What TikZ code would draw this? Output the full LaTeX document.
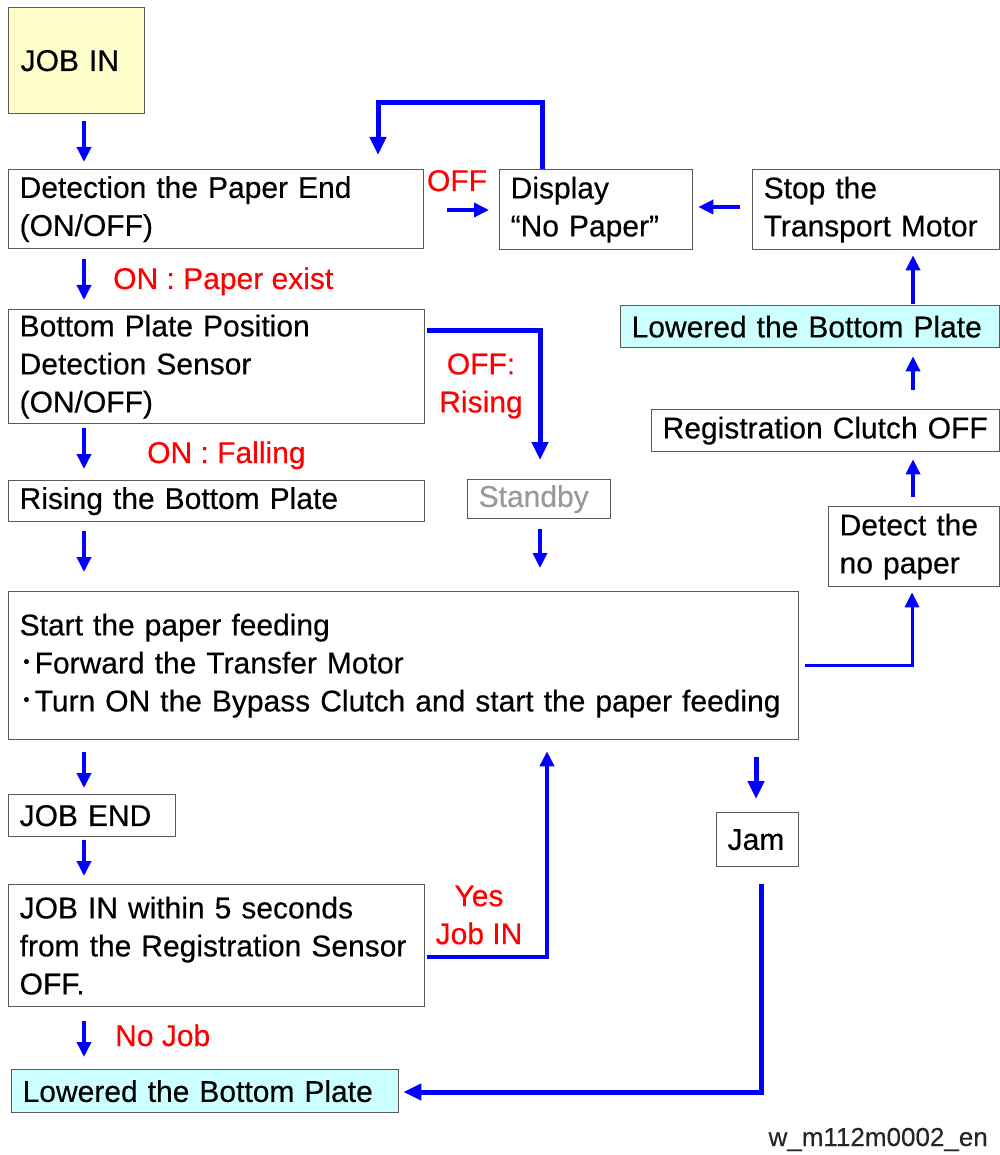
\documentclass[tikz,border=0pt]{standalone}
\usepackage{fontspec}
\setmainfont{Liberation Sans}[FakeBold=0.35]
\newfontfamily\cjk{Noto Sans CJK JP}
\usetikzlibrary{arrows.meta}
\definecolor{flowblue}{RGB}{0,0,255}
\definecolor{lblred}{RGB}{255,0,0}
\definecolor{startfill}{RGB}{255,255,204}
\definecolor{lowfill}{RGB}{204,255,255}
\begin{document}
\begin{tikzpicture}[x=1pt, y=-1pt, font=\fontsize{30}{38}\selectfont,
	box/.style={draw=black!65, line width=1.3pt, anchor=north west, align=left, inner xsep=11pt, inner ysep=0pt},
	lbl/.style={text=lblred, inner sep=0pt},
	flow/.style={draw=flowblue, line width=3.5pt, -{Triangle[length=15pt,width=14pt]}},
	bigflow/.style={flow, line width=5pt, -{Triangle[length=18pt,width=16pt]}}]
	\useasboundingbox (0,0) rectangle (999,1155);
	% 1. Cột trái: các bước chính
	\node[box, fill=startfill, text width=112pt, minimum height=106pt, inner xsep=12pt] (jobin) at (8,7) {JOB IN};
	\node[box, text width=393pt, minimum height=79pt] (det) at (8,169) {Detection the Paper End\\(ON/OFF)};
	\node[box, text width=394pt, minimum height=114pt] (bpp) at (8,309) {Bottom Plate Position\\Detection Sensor\\(ON/OFF)};
	\node[box, text width=394pt, minimum height=41pt] (rise) at (8,480) {Rising the Bottom Plate};
	\node[box, text width=768pt, minimum height=148pt] (feed) at (8,591) {Start the paper feeding\\{\cjk ･}Forward the Transfer Motor\\{\cjk ･}Turn ON the Bypass Clutch and start the paper feeding};
	\node[box, text width=145pt, minimum height=42pt] (jobend) at (8,794) {JOB END};
	\node[box, text width=394pt, minimum height=122pt] (within) at (8,884) {JOB IN within 5 seconds\\from the Registration Sensor\\OFF.};
	\node[box, fill=lowfill, text width=365pt, minimum height=43pt] (lowB) at (11,1069) {Lowered the Bottom Plate};
	% 2. Cột phải: hết giấy
	\node[box, text width=171pt, minimum height=80pt] (disp) at (499,169) {Display\\“No Paper”};
	\node[box, text width=225pt, minimum height=80pt] (stop) at (752,169) {Stop the\\Transport Motor};
	\node[box, fill=lowfill, text width=357pt, minimum height=42pt] (lowA) at (620,305) {Lowered the Bottom Plate};
	\node[box, text width=326pt, minimum height=42pt] (reg) at (651,409) {Registration Clutch OFF};
	\node[box, text width=149pt, minimum height=80pt] (nopaper) at (828,506) {Detect the\\no paper};
	\node[box, text=black!40, text width=121pt, minimum height=39pt] (standby) at (467,479) {Standby};
	\node[box, text width=60pt, minimum height=54pt] (jam) at (716,812) {Jam};
	% 3. Nhãn đỏ
	\node[lbl, anchor=base] (offA) at (457,191) {OFF};
	\node[lbl, anchor=base west] (onA) at (113,289) {ON : Paper exist};
	\node[lbl, align=center] (offB) at (481,386) {OFF:\\Rising};
	\node[lbl, anchor=base west] (onB) at (147,463) {ON : Falling};
	\node[lbl, align=center] (yes) at (479,915) {Yes\\Job IN};
	\node[lbl, anchor=base west] (nojob) at (115,1046) {No Job};
	\node[anchor=base east, inner sep=0pt, font=\fontsize{26}{30}\selectfont, text=black!85] (code) at (988,1146) {w\_m112m0002\_en};
	% 4. Điểm gấp của các đường nối
	\coordinate (lx) at (84,0);
	\coordinate (rx) at (913,0);
	\coordinate (jx) at (756,0);
	\coordinate (offy) at (0,210);
	\coordinate (stopy) at (0,207);
	\coordinate (loopR) at (542,103);
	\coordinate (loopL) at (378,103);
	\coordinate (riseR) at (540,330);
	\coordinate (feedR) at (912,665);
	\coordinate (yesR) at (547,957);
	\coordinate (jamR) at (761,1092);
	% 5. Mũi tên cột trái
	\draw[flow, shorten <=7pt, shorten >=7pt] (jobin.south -| lx) -- (det.north -| lx);
	\draw[flow, shorten <=10pt, shorten >=9pt] (det.south -| lx) -- (bpp.north -| lx);
	\draw[flow, shorten <=4pt, shorten >=11pt] (bpp.south -| lx) -- (rise.north -| lx);
	\draw[flow, shorten <=9pt, shorten >=19pt] (rise.south -| lx) -- (feed.north -| lx);
	\draw[flow, shorten <=12pt, shorten >=6pt] (feed.south -| lx) -- (jobend.north -| lx);
	\draw[flow, shorten <=3pt, shorten >=8pt] (jobend.south -| lx) -- (within.north -| lx);
	\draw[flow, shorten <=14pt, shorten >=12pt] (within.south -| lx) -- (lowB.north -| lx);
	% 6. Mũi tên cột phải
	\draw[flow, shorten <=1pt, shorten >=5pt] (lowA.north -| rx) -- (stop.south -| rx);
	\draw[flow, shorten <=19pt, shorten >=8pt] (reg.north -| rx) -- (lowA.south -| rx);
	\draw[flow, shorten <=9pt, shorten >=7pt] (nopaper.north -| rx) -- (reg.south -| rx);
	\draw[flow, line width=3pt, shorten <=6pt, shorten >=5pt] (feed.east |- feedR) -- (feedR) -- (nopaper.south -| feedR);
	\draw[flow, shorten <=23pt, shorten >=10pt] (det.east |- offy) -- (disp.west |- offy);
	\draw[flow, shorten <=12pt, shorten >=5pt] (stop.west |- stopy) -- (disp.east |- stopy);
	% 7. Các vòng lặp
	\draw[bigflow, shorten >=14pt] (disp.north -| loopR) -- (loopR) -- (loopL) -- (det.north -| loopL);
	\draw[bigflow, shorten <=2pt, shorten >=19pt] (bpp.east |- riseR) -- (riseR) -- (standby.north -| riseR);
	\draw[flow, shorten <=10pt, shorten >=23pt] (standby.south -| riseR) -- (feed.north -| riseR);
	\draw[flow, line width=4.5pt, shorten <=2pt, shorten >=11pt] (within.east |- yesR) -- (yesR) -- (feed.south -| yesR);
	\draw[bigflow, shorten <=17pt, shorten >=13pt] (feed.south -| jx) -- (jam.north -| jx);
	\draw[bigflow, shorten <=17pt, shorten >=4pt] (jam.south -| jamR) -- (jamR) -- (lowB.east |- jamR);
\end{tikzpicture}
\end{document}
